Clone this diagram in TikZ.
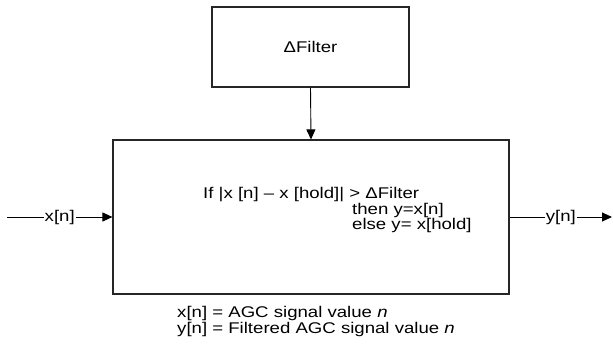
\documentclass[tikz,border=0pt]{standalone}
\usepackage{fontspec}
\setmainfont{Liberation Sans}
\usepackage{graphicx}
\usetikzlibrary{arrows.meta}
\newcommand{\wide}[1]{\scalebox{1.2}[1]{#1}}

\begin{document}
\begin{tikzpicture}[x=1pt, y=-1pt,
	box/.style={draw=black!85, line width=1.1pt, inner sep=0pt, font=\fontsize{15.5}{16}\selectfont},
	arr/.style={line width=0.9pt, -{Triangle[length=10pt, width=9pt]}},
	lbl/.style={fill=white, inner sep=1pt, font=\fontsize{15.5}{16}\selectfont},
	txt/.style={inner sep=0pt, align=left, font=\fontsize{15.5}{15.5}\selectfont}]
		%%%%% START %%%%%
		
		\useasboundingbox (0, 0) rectangle (613, 346);
		
		\node[box, minimum width=197pt, minimum height=80pt] (delta) at (310.5, 47) {\wide{ΔFilter}};
		\node[box, minimum width=396pt, minimum height=154pt] (filt) at (311, 217) {};
		
		\node[txt, anchor=west] (rule) at (203, 210)
			{\wide{If |x [n] – x [hold]| > ΔFilter}\\
			 \hspace*{149pt}\wide{then y=x[n]}\\
			 \hspace*{149pt}\wide{else y= x[hold]}};
		
		\coordinate (in) at (7, 217);
		\coordinate (out) at (612, 217);
		
		\draw[arr] (in) -- node[lbl] (xn) {\wide{x[n]}} (filt.west);
		\draw[arr] (filt.east) -- node[lbl] (yn) {\wide{y[n]}} (out);
		\draw[arr] (delta.south) -- (filt.north);
		
		\node[txt, anchor=west, font=\fontsize{15.5}{16}\selectfont] (legend) at (177, 321)
			{\wide{x[n] = AGC signal value \textit{n}}\\
			 \wide{y[n] = Filtered AGC signal value \textit{n}}};
		
		%%%%% END %%%%%
\end{tikzpicture}
\end{document}
